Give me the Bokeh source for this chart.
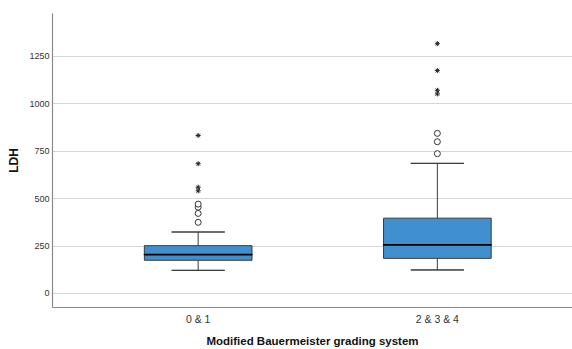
from bokeh.plotting import figure
from bokeh.embed import file_html
from bokeh.resources import INLINE
from bokeh.models import FixedTicker, ColumnDataSource

categories = ["0 & 1", "2 & 3 & 4"]
q1 = [175, 185]
median = [205, 256]
q3 = [252, 397]
whisker_low = [122, 124]
whisker_high = [324, 686]
outliers_circle = [[375, 422, 455, 471], [737, 800, 844]]
outliers_star = [[541, 560, 684, 833], [1052, 1071, 1175, 1317]]
y_ticks = [0, 250, 500, 750, 1000, 1250]

xs = [1, 2]
box_w = 0.45
cap_w = 0.222

p = figure(width=572, height=349, output_backend="svg", toolbar_location=None,
           x_range=(0.391, 2.565), y_range=(-74, 1476),
           min_border_left=52, min_border_right=0, min_border_top=13, min_border_bottom=41)
p.outline_line_color = None
p.background_fill_color = "white"
p.border_fill_color = "white"

src = ColumnDataSource(dict(x=xs, q1=q1, q3=q3, med=median, lo=whisker_low, hi=whisker_high))

# whiskers
p.segment(x0="x", y0="q3", x1="x", y1="hi", source=src, line_color="#3a3a3a", line_width=1)
p.segment(x0="x", y0="lo", x1="x", y1="q1", source=src, line_color="#3a3a3a", line_width=1)
p.rect(x="x", y="hi", width=cap_w, height=0.01, source=src, line_color="#3a3a3a", line_width=1,
       height_units="screen", fill_color=None)
p.rect(x="x", y="lo", width=cap_w, height=0.01, source=src, line_color="#3a3a3a", line_width=1,
       height_units="screen", fill_color=None)
# boxes
p.vbar(x="x", bottom="q1", top="q3", width=box_w, source=src, fill_color="#4090d0",
       line_color="#3a3a3a", line_width=1)
# medians
p.rect(x="x", y="med", width=box_w, height=0.01, source=src, line_color="black", line_width=1.8,
       height_units="screen", fill_color=None)

cx, cy, sx, sy = [], [], [], []
for i, x in enumerate(xs):
    for v in outliers_circle[i]:
        cx.append(x); cy.append(v)
    for v in outliers_star[i]:
        sx.append(x); sy.append(v)
p.scatter(cx, cy, marker="circle", size=6, fill_color="white", line_color="#333333", line_width=1)
p.scatter(sx, sy, marker="asterisk", size=5, line_color="#222222", line_width=1)

p.xgrid.grid_line_color = None
p.ygrid.grid_line_color = "#d6d6d6"
p.ygrid.grid_line_width = 1.2

p.yaxis.ticker = FixedTicker(ticks=y_ticks)
p.xaxis.ticker = FixedTicker(ticks=xs)
p.xaxis.major_label_overrides = {1: categories[0], 2: categories[1]}

for ax in (p.xaxis, p.yaxis):
    ax.axis_line_color = "#8a8a8a"
    ax.axis_line_width = 1.2
    ax.major_tick_line_color = None
    ax.minor_tick_line_color = None
    ax.major_tick_out = 0
    ax.major_tick_in = 0
    ax.minor_tick_out = 0
    ax.minor_tick_in = 0
    ax.major_label_text_font = "Liberation Sans"
    ax.major_label_text_color = "#333333"
    ax.axis_label_text_font = "Liberation Sans"
    ax.axis_label_text_font_style = "bold"
    ax.axis_label_text_color = "#111111"

p.yaxis.major_label_text_font_size = "9px"
p.yaxis.major_label_standoff = 3
p.yaxis.axis_label = "LDH"
p.yaxis.axis_label_text_font_size = "12px"
p.yaxis.axis_label_standoff = 5

p.xaxis.major_label_text_font_size = "10.5px"
p.xaxis.major_label_standoff = 5
p.xaxis.axis_label = "Modified Bauermeister grading system"
p.xaxis.axis_label_text_font_size = "11.5px"
p.xaxis.axis_label_standoff = 7

open("out.html", "w").write(file_html(p, INLINE))
